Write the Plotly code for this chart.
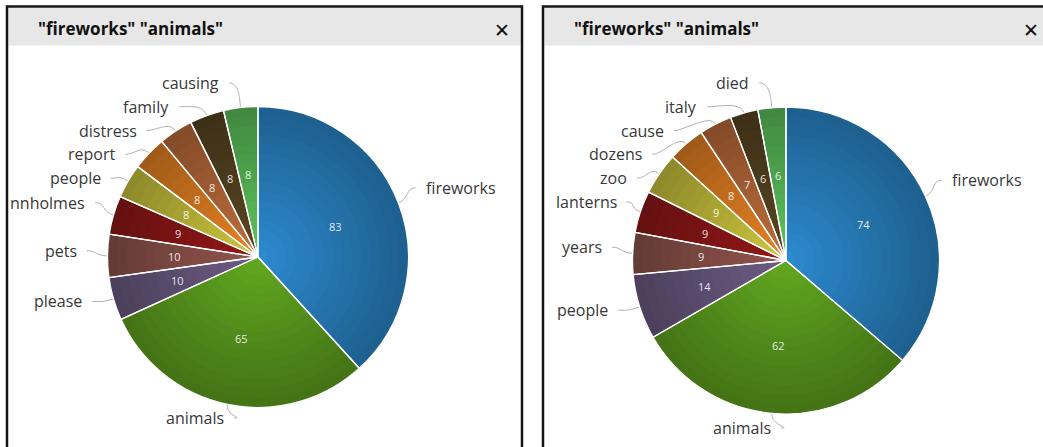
import math
import plotly.graph_objects as go

W, H = 1043, 447

# ---------------- data ----------------
panel_title = '"fireworks" "animals"'

left_labels = ["fireworks", "animals", "please", "pets", "nnholmes",
               "people", "report", "distress", "family", "causing"]
left_values = [83, 65, 10, 10, 9, 8, 8, 8, 8, 8]

right_labels = ["fireworks", "animals", "people", "years", "lanterns",
                "zoo", "dozens", "cause", "italy", "died"]
right_values = [74, 62, 14, 9, 9, 9, 8, 7, 6, 6]

palette = ["#2c8bd0", "#62a820", "#6e5d85", "#93564e", "#941818",
           "#cfc83e", "#ea8424", "#c06e3c", "#5a4622", "#5ec65e"]

# ---------------- layout constants ----------------
charts = [
    dict(labels=left_labels, values=left_values, cx=258, cy=257, r=150.5,
         top=83, bottom=418),
    dict(labels=right_labels, values=right_values, cx=786, cy=260.5, r=153.5,
         top=83, bottom=428),
]
GAP = 23.8
LABEL_LIFT = 5
FONT = "Open Sans"
LABEL_COLOR = "#383838"
CONNECTOR = "#b0b0b0"


def X(px):
    return px / W


def Y(py):
    return 1 - py / H


def shade(hexc, f):
    hexc = hexc.lstrip("#")
    r, g, b = (int(hexc[i:i + 2], 16) for i in (0, 2, 4))
    return "rgb(%d,%d,%d)" % (round(r * f), round(g * f), round(b * f))


fig = go.Figure()
shapes = []
annotations = []

# panels
panels = [(7, 522), (543, W + 12)]
for (x0, x1) in panels:
    shapes.append(dict(type="rect", xref="paper", yref="paper",
                       x0=X(x0 + 1.5), x1=X(x1 - 1.5), y0=Y(45.5), y1=Y(8),
                       fillcolor="#e7e7e7", line=dict(width=0), layer="below"))
    shapes.append(dict(type="rect", xref="paper", yref="paper",
                       x0=X(x0), x1=X(x1), y0=Y(H + 12), y1=Y(6.5),
                       fillcolor="rgba(0,0,0,0)",
                       line=dict(color="#151515", width=2.5), layer="above"))
    annotations.append(dict(text="<b>%s</b>" % panel_title, xref="paper", yref="paper",
                            x=X(x0 + 29), y=Y(29), xanchor="left", yanchor="middle",
                            showarrow=False, font=dict(family=FONT, size=17, color="#111")))
close_x = [502, 1031]
for cxp in close_x:
    annotations.append(dict(text="<b>✕</b>", xref="paper", yref="paper",
                            x=X(cxp), y=Y(30), xanchor="center", yanchor="middle",
                            showarrow=False,
                            font=dict(family="DejaVu Sans", size=19, color="#111")))

NLAYERS = 16
for ch in charts:
    cx, cy, r = ch["cx"], ch["cy"], ch["r"]
    vals, labs = ch["values"], ch["labels"]
    # gradient layers (outer dark -> inner light)
    for k in range(NLAYERS):
        f = 1 - k / NLAYERS
        t = f - 0.5 / NLAYERS
        fac = 1 - 0.32 * t
        fig.add_trace(go.Pie(
            labels=labs, values=vals, sort=False, direction="clockwise",
            rotation=0, textinfo="none", hoverinfo="skip", showlegend=False,
            marker=dict(colors=[shade(c, fac) for c in palette], line=dict(width=0)),
            domain=dict(x=[X(cx - r * f), X(cx + r * f)], y=[Y(cy + r * f), Y(cy - r * f)]),
        ))
    # white slice borders on top
    fig.add_trace(go.Pie(
        labels=labs, values=vals, sort=False, direction="clockwise",
        rotation=0, textinfo="none", hoverinfo="skip", showlegend=False,
        marker=dict(colors=["rgba(0,0,0,0)"] * len(vals), line=dict(color="white", width=1.3)),
        domain=dict(x=[X(cx - r), X(cx + r)], y=[Y(cy + r), Y(cy - r)]),
    ))

    total = float(sum(vals))
    mids = []
    acc = 0.0
    for v in vals:
        mids.append((acc + v / 2) / total * 360.0)
        acc += v

    # value labels inside
    for lab, v, a in zip(labs, vals, mids):
        rad = math.radians(a)
        d = 0.555 * r
        annotations.append(dict(text=str(v), xref="paper", yref="paper",
                                x=X(cx + d * math.sin(rad)), y=Y(cy - d * math.cos(rad)),
                                xanchor="center", yanchor="middle", showarrow=False,
                                font=dict(family=FONT, size=11, color="rgba(255,255,255,0.88)")))

    # outside labels, distributed like a pie label layout
    R = r + 27
    R2 = r + 22
    items = []
    for lab, a in zip(labs, mids):
        rad = math.radians(a)
        side = 1 if math.sin(rad) >= 0 else -1
        items.append(dict(lab=lab, a=a, side=side, pushed=False,
                          ny=cy - R * math.cos(rad) - LABEL_LIFT, nx=cx + R * math.sin(rad)))
    for side in (1, -1):
        grp = sorted([it for it in items if it["side"] == side], key=lambda it: it["ny"])
        prev = None
        for it in grp:
            y = max(it["ny"], ch["top"])
            if prev is not None and prev + GAP > y + 0.5:
                y = prev + GAP
                it["pushed"] = True
            it["y"] = y
            prev = y
        nxt = None
        for it in reversed(grp):
            y = min(it["y"], ch["bottom"])
            if nxt is not None:
                y = min(y, nxt - GAP)
            it["clamped"] = y < it["y"] - 0.01 or it["ny"] > ch["bottom"]
            it["y"] = y
            nxt = y
    for it in items:
        side = it["side"]
        y = it["y"]
        dy = y - cy
        if it["clamped"]:
            xc = it["nx"] - side * 6
        elif it["pushed"]:
            xc = cx + side * math.sqrt(max(R2 * R2 - dy * dy, 0.0))
        else:
            xc = cx + side * math.sqrt(max(R * R - dy * dy, 0.0))
        annotations.append(dict(text=it["lab"], xref="paper", yref="paper",
                                x=X(xc + side * 2), y=Y(y),
                                xanchor="left" if side > 0 else "right", yanchor="middle",
                                showarrow=False,
                                font=dict(family=FONT, size=16, color=LABEL_COLOR)))
        rad = math.radians(it["a"])
        ex, ey = cx + r * math.sin(rad), cy - r * math.cos(rad)
        bx, by = cx + (r + 12) * math.sin(rad), cy - (r + 12) * math.cos(rad)
        sx, sy = xc - side * 6, y
        c1x, c1y = sx - side * 10, sy
        path = "M%.5f,%.5f C%.5f,%.5f %.5f,%.5f %.5f,%.5f" % (
            X(sx), Y(sy), X(c1x), Y(c1y), X(bx), Y(by), X(ex), Y(ey))
        shapes.append(dict(type="path", xref="paper", yref="paper", path=path,
                           line=dict(color=CONNECTOR, width=1), layer="below"))

fig.update_layout(
    width=W, height=H, autosize=False,
    margin=dict(l=0, r=0, t=0, b=0),
    paper_bgcolor="white", plot_bgcolor="white",
    shapes=shapes, annotations=annotations,
    showlegend=False,
)

fig.write_html("out.html", config={"displayModeBar": False, "staticPlot": True},
               post_script="document.body.style.margin='0';document.body.style.overflow='hidden';")
